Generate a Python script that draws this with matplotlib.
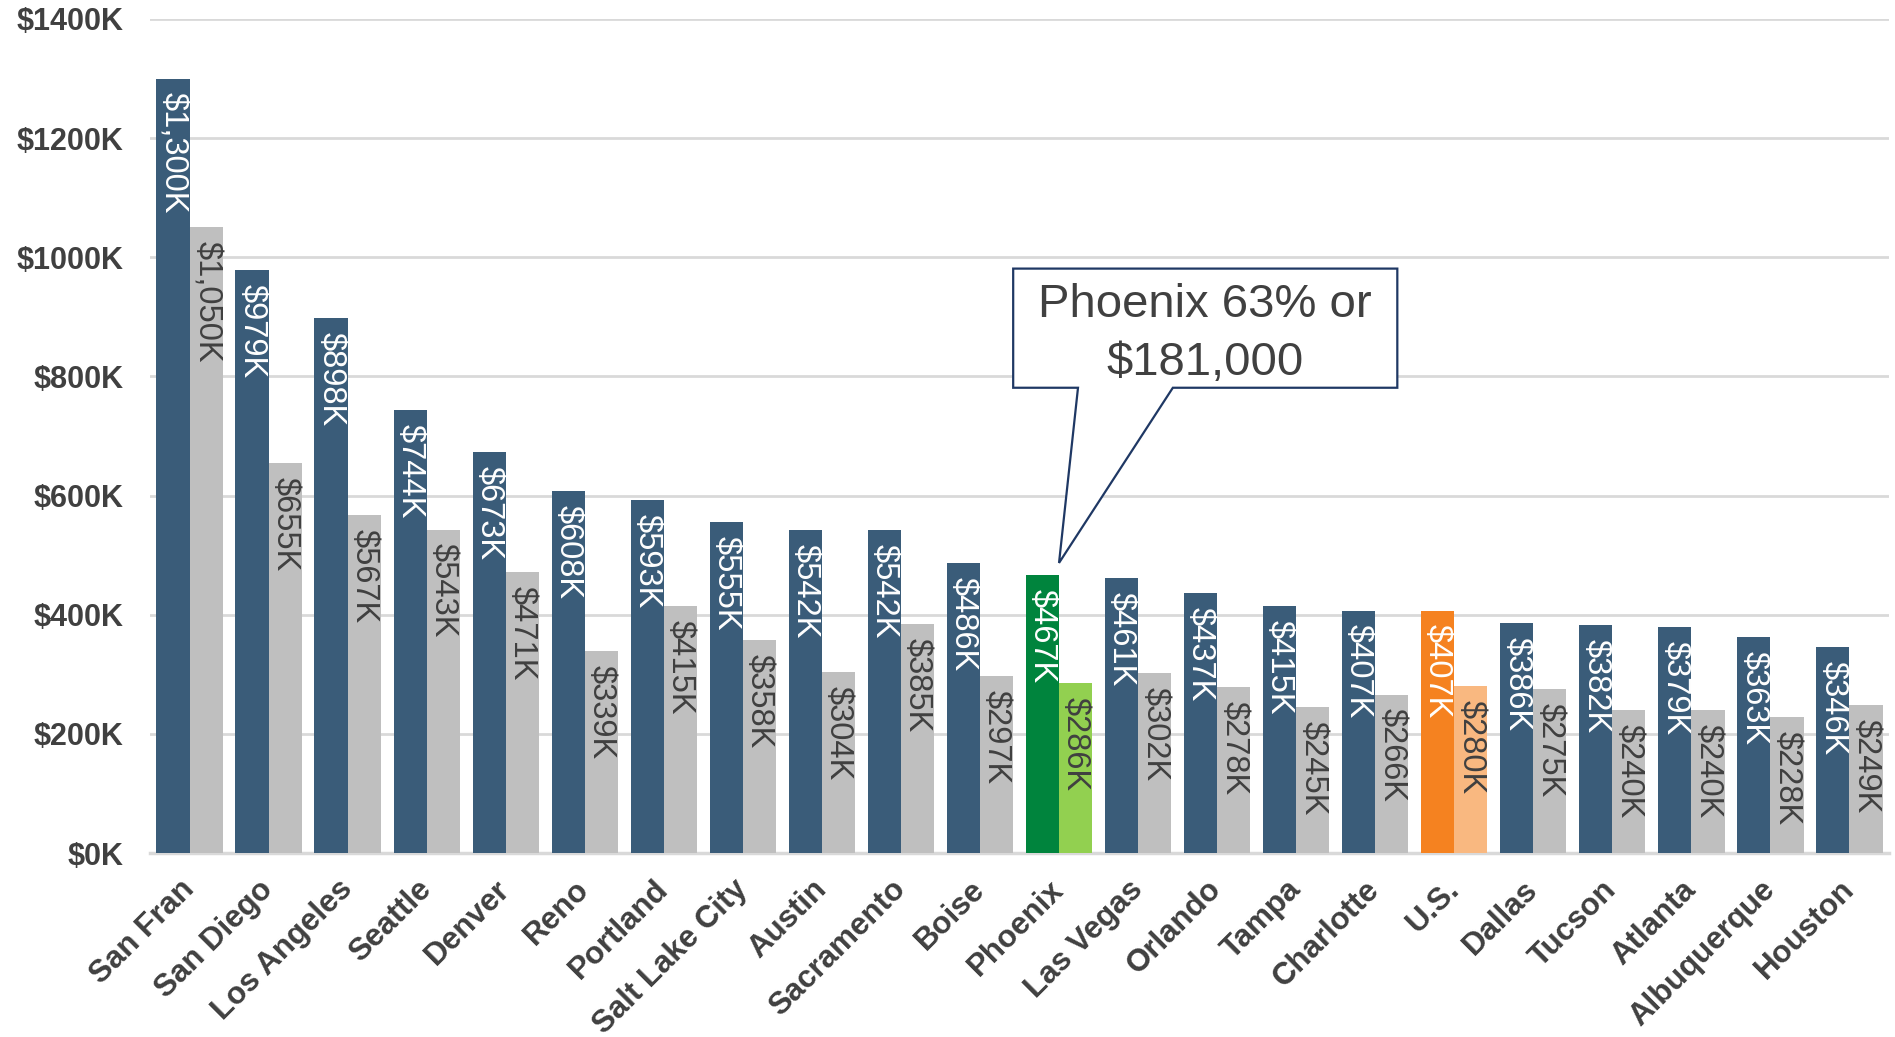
import matplotlib.pyplot as plt
from matplotlib.patches import Polygon
import numpy as np

plt.rcParams['font.family'] = ['Liberation Sans', 'DejaVu Sans']

cities = ["San Fran", "San Diego", "Los Angeles", "Seattle", "Denver", "Reno",
          "Portland", "Salt Lake City", "Austin", "Sacramento", "Boise", "Phoenix",
          "Las Vegas", "Orlando", "Tampa", "Charlotte", "U.S.", "Dallas", "Tucson",
          "Atlanta", "Albuquerque", "Houston"]
# values in $K
current = [1300, 979, 898, 744, 673, 608, 593, 555, 542, 542, 486, 467,
           461, 437, 415, 407, 407, 386, 382, 379, 363, 346]
previous = [1050, 655, 567, 543, 471, 339, 415, 358, 304, 385, 297, 286,
            302, 278, 245, 266, 280, 275, 240, 240, 228, 249]
yticks = [0, 200, 400, 600, 800, 1000, 1200, 1400]

BLUE = "#3a5c79"
GREY = "#bfbfbf"
TEXT = "#404040"
# highlighted cities: (dark, light)
highlight = {"Phoenix": ("#00843d", "#92d050"), "U.S.": ("#f58220", "#f9b880")}

fig = plt.figure(figsize=(18.95, 10.37), dpi=100)
ax = fig.add_axes([0.0792, 0.1774, 0.9176, 0.8043])

x = np.arange(len(cities))
w = 0.42
dark_cols = [highlight.get(c, (BLUE, GREY))[0] for c in cities]
light_cols = [highlight.get(c, (BLUE, GREY))[1] for c in cities]

ax.bar(x - w / 2, current, w, color=dark_cols, zorder=3)
ax.bar(x + w / 2, previous, w, color=light_cols, zorder=3)

for i in range(len(cities)):
    ax.annotate(f"${current[i]:,}K", (x[i] - w / 2, current[i]), xytext=(0, -10),
                textcoords="offset points", rotation=-90, ha="center", va="top",
                fontsize=23.5, color="white", zorder=4)
    ax.annotate(f"${previous[i]:,}K", (x[i] + w / 2, previous[i]), xytext=(0, -10),
                textcoords="offset points", rotation=-90, ha="center", va="top",
                fontsize=23.5, color=TEXT, zorder=4)

ax.set_xlim(-0.5, len(cities) - 0.5)
ax.set_ylim(0, 1400)
ax.set_yticks(yticks)
ax.set_yticklabels([f"${v}K" for v in yticks], fontsize=22, fontweight="bold", color=TEXT)
ax.set_xticks(x)
ax.set_xticklabels(cities, rotation=45, ha="right", va="center", rotation_mode="anchor",
                   fontsize=22.5, fontweight="bold", color=TEXT)
ax.tick_params(axis="y", length=0, pad=19)
ax.tick_params(axis="x", length=0, pad=23)
ax.grid(axis="y", color="#d9d9d9", linewidth=2, zorder=0)
for s in ["top", "right", "left"]:
    ax.spines[s].set_visible(False)
ax.spines["bottom"].set_color("#d9d9d9")
ax.spines["bottom"].set_linewidth(2.5)

# callout for Phoenix
p = cities.index("Phoenix")
gain = current[p] - previous[p]
pct = round(gain / previous[p] * 100)
tip = (x[p], current[p] + 20)
box_l, box_r, box_b, box_t = 10.42, 15.28, 781, 981
callout = Polygon([(box_l, box_t), (box_r, box_t), (box_r, box_b), (12.44, box_b),
                   tip, (11.24, box_b), (box_l, box_b)], closed=True,
                  facecolor="white", edgecolor="#1f3864", linewidth=1.6, zorder=5)
ax.add_patch(callout)
ax.text((box_l + box_r) / 2, (box_b + box_t) / 2 - 10, f"Phoenix {pct}% or\n${gain * 1000:,}",
        ha="center", va="center", fontsize=34, color=TEXT, linespacing=1.4, zorder=6)

fig.savefig("out.png", dpi=100)
